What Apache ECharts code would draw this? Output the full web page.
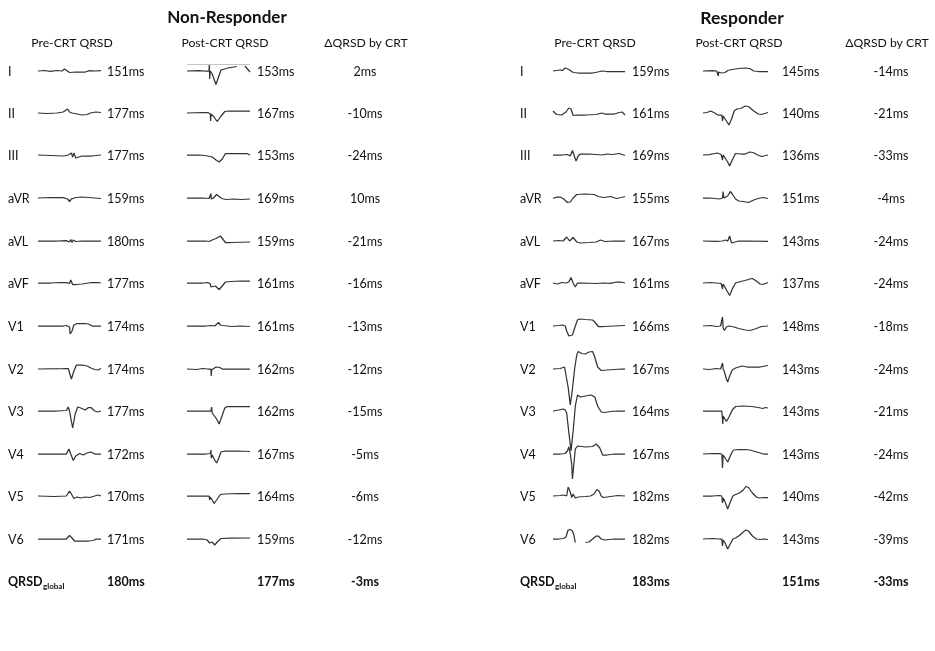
<!DOCTYPE html>
<html>
<head>
<meta charset="utf-8">
<script src="https://cdn.jsdelivr.net/npm/echarts@6/dist/echarts.min.js"></script>
<style>html,body{margin:0;padding:0;background:#fff}#c{width:935px;height:651px}</style>
</head>
<body>
<div id="c"></div>
<script>
// ---------- data ----------
const leads = ['I','II','III','aVR','aVL','aVF','V1','V2','V3','V4','V5','V6'];
const nrPreQRSD  = [151,177,177,159,180,177,174,174,177,172,170,171];
const nrPostQRSD = [153,167,153,169,159,161,161,162,162,167,164,159];
const nrDelta    = [2,-10,-24,10,-21,-16,-13,-12,-15,-5,-6,-12];
const rPreQRSD   = [159,161,169,155,167,161,166,167,164,167,182,182];
const rPostQRSD  = [145,140,136,151,143,137,148,143,143,143,140,143];
const rDelta     = [-14,-21,-33,-4,-24,-24,-18,-24,-21,-24,-42,-39];
const nrGlobal   = [180,177,-3];
const rGlobal    = [183,151,-33];

// waveforms: [time % of trace, deflection]
const nrPreWaves = [
 [[0,0],[10,0.5],[20,-0.3],[30,0.5],[38,0],[42,2],[45,0],[50,-1.5],[60,-1],[75,-1],[82,0.3],[90,0],[100,0.3]],
 [[0,0],[15,-0.5],[30,0],[40,1],[47,4],[50,1],[54,0],[57,-2],[70,-2],[78,-1.5],[83,0],[92,1],[100,0.5]],
 [[0,0],[20,-0.5],[40,-1],[48,0],[51,-2],[53,2],[55,-2],[57,2],[60,-3],[63,-1],[70,-1],[85,-1],[100,0]],
 [[0,0],[20,0.5],[40,0.3],[47,-1],[50,-3.5],[53,-1],[60,0.5],[70,1],[80,0.5],[90,0],[100,-0.5]],
 [[0,0],[30,0],[45,0.3],[50,-1],[52,1.5],[54,-1.5],[56,1],[60,-0.5],[70,0],[100,0]],
 [[0,0],[20,0],[35,0.5],[45,0.3],[48,2],[50,-0.5],[52,3],[55,-1.5],[60,-1.5],[70,-1],[85,0.5],[95,0.5],[100,0]],
 [[0,0],[40,0],[45,0.5],[48,2],[50,-1],[51,-8],[54,-5],[57,1],[62,2.5],[75,2.5],[80,2],[86,0],[100,0]],
 [[0,0],[40,0.3],[48,0.5],[50,2],[53,-10],[57,-2],[61,4],[70,4],[78,3],[84,1],[90,-0.5],[95,-1],[100,0.5]],
 [[0,0],[30,0],[45,0.5],[48,4],[50,0],[55,-17],[59,-3],[63,4],[68,3],[75,1],[80,3.5],[84,3.5],[90,0],[95,-1],[100,0]],
 [[0,0],[30,0],[45,0],[49,5],[52,0],[56,-6.5],[60,-2],[66,0.5],[72,-1],[78,1],[84,2],[90,0],[100,0]],
 [[0,0],[25,-0.5],[45,0],[50,5],[53,2],[57,-2.5],[62,-1],[68,-2],[75,-1],[82,-1.5],[90,0],[95,1],[100,0]],
 [[0,0],[30,0],[45,0],[50,3.5],[54,1],[58,-2],[70,-2],[80,-2],[88,-1.5],[92,0],[100,0]]
];
const nrPostWaves = [
 [[0,0],[20,0.3],[28,0],[35,0],[35.5,7],[36,-8],[37,0],[40,-3],[46,-13.5],[50,-6],[54,1],[65,3],[79,4.5],[80,null],[92,5],[100,-1]],
 [[0,0],[25,0.5],[33,0.5],[37,-1],[37.5,-8],[38,-1],[40,-1],[43,-4],[48,-8.5],[53,-4],[60,1.5],[66,2],[80,2],[100,2]],
 [[0,0],[20,0],[28,-0.5],[33,-1],[40,-2],[46,-5],[51,-7],[56,-4],[61,1.5],[70,1.5],[85,1.5],[95,1.5],[100,0]],
 [[0,0],[25,0],[35,-0.5],[37,-0.5],[38,4.5],[38.5,-1],[42,0],[47,3.5],[50,3],[55,-0.5],[62,-1.5],[75,-1],[85,-1.5],[100,-1]],
 [[0,0],[30,0],[35,-0.5],[40,1],[46,2.5],[53,5],[56,3],[61,-1.5],[70,-1.5],[100,-1]],
 [[0,0],[25,0],[33,0.5],[37,-1],[38,-4],[40,-2],[45,-3],[51,-6.5],[56,-3],[61,1],[70,1.5],[85,2],[100,2]],
 [[0,0],[30,0],[38,0.5],[41,2],[44,0],[47,1],[50,3.5],[53,1],[58,0.5],[70,-0.5],[85,0],[100,-0.5]],
 [[0,0],[15,-0.5],[25,0.5],[33,0],[38,0],[38.5,-7],[39,-1],[42,-1],[46,2],[49,0],[52,1.5],[56,0],[70,0],[100,0]],
 [[0,0],[30,0],[38,0],[39,4],[40,-2],[43,-4],[47,-8],[51,-13],[55,-6],[60,3],[64,4.5],[80,4.5],[100,4.5]],
 [[0,0],[30,0],[37,0.5],[38,4],[38.5,-4],[40,-1],[43,-5],[47,-9],[50,-5],[54,2],[60,3],[80,3],[100,2.5]],
 [[0,0],[30,0],[35,0],[36,-4],[37,-1],[40,-4],[43,-7.5],[47,-4],[53,1.5],[60,2],[80,2.5],[100,2.5]],
 [[0,0],[25,0],[32,-1],[35,-1.5],[36,-4],[37,-2],[40,-3],[44,-6],[48,-3],[54,0.5],[70,0.8],[100,1]]
];
const rPreWaves = [
 [[0,0],[5,0.5],[10,1],[13,0.5],[17,3],[22,1.5],[28,-1.5],[35,-2],[45,-2],[55,-2],[62,-1],[68,0],[75,-0.5],[85,-0.5],[100,-0.5]],
 [[0,2],[5,-1.5],[12,-2],[18,1],[22,5],[25,4],[28,-2.5],[32,-2],[45,-2],[60,-1.5],[68,0],[72,-1],[85,-1],[92,0.5],[96,1],[100,-2]],
 [[0,0],[12,0],[20,0.5],[24,-1],[27,4.5],[30,-2],[32,-6],[35,-1],[38,1],[50,1],[60,0.5],[62,-1.5],[68,0],[75,1],[82,0.5],[92,1.5],[100,-0.5]],
 [[0,-0.5],[5,1],[10,1],[15,-1],[20,-4.5],[24,-4],[28,0],[33,3.5],[45,4],[57,3.5],[63,1.5],[70,0.5],[80,1.5],[88,-0.5],[95,0.5],[100,1.5]],
 [[0,0],[8,0.5],[14,0],[19,4],[23,0],[28,3.5],[33,-1],[38,-2],[50,-1.5],[60,-1],[66,1],[72,-0.5],[85,0],[100,0]],
 [[0,0],[6,-1],[12,0.5],[18,0],[22,1],[25,5.5],[28,0],[31,-4],[34,0],[40,0],[60,-0.5],[70,0],[80,-0.3],[88,1],[94,1],[100,0]],
 [[0,0],[8,0.5],[13,1],[17,0],[19,-5],[22,-10],[24,-12],[27,-9],[31,0],[34,6],[37,7],[45,6.5],[55,6],[58,4],[63,-0.5],[70,-0.5],[85,0],[100,0.5]],
 [[0,0],[10,0.5],[16,2],[18,0],[21,-18],[24,-36],[27,-20],[30,0],[33,14],[35,17.5],[40,15.5],[45,15],[50,17],[55,17.5],[58,12],[62,2],[67,-1.5],[75,-1],[85,-0.5],[95,0],[100,0]],
 [[0,0],[8,1],[14,2],[17,1],[19,-2],[21,-15],[25,-40],[28,-20],[31,5],[34,16],[38,14],[45,15],[53,16],[58,14],[62,5],[67,-1],[72,-1.5],[80,-0.5],[90,0],[100,0]],
 [[0,0],[10,0],[17,0.5],[20,3],[22,7],[24,0],[26,-10],[27,-25],[29,-10],[31,5],[34,8],[45,7],[55,7.5],[60,10],[62,12],[65,6],[69,-1],[75,-1],[85,0],[100,0]],
 [[0,0],[10,0.5],[15,1],[19,0],[21,9],[24,4],[26,-1.5],[28,2],[31,-2],[35,-1],[45,-0.5],[52,0],[57,2],[61,6.5],[64,5],[67,0],[70,-1.5],[80,-0.5],[90,0.5],[100,0]],
 [[0,0],[8,0],[15,0.5],[18,2],[21,9],[24,9.5],[27,8],[29,4],[31,-3.5],[38,null],[45,-3.5],[50,-3],[55,0],[60,3],[63,3],[67,0],[72,-1],[85,0],[100,0]]
];
const rPostWaves = [
 [[0,0],[15,0.3],[21,0],[23,-1],[23.5,-5],[24,-1],[28,-2],[31,-3],[34,-1.5],[38,0.5],[45,1.5],[55,2.5],[65,3],[72,2.5],[78,0],[85,-0.5],[100,-0.5]],
 [[0,0],[6,0.5],[12,2],[18,0],[23,-2],[29,-2],[30,-8],[31,-3],[34,-4],[37,-9],[40,-12],[44,-6],[48,2],[52,4],[58,4.5],[65,7],[70,6.5],[78,2],[85,-1],[90,-1.5],[95,-0.5],[100,0.5]],
 [[0,0],[10,0.3],[18,1.5],[22,2],[28,0.5],[30,-5],[31,0],[34,-2],[38,-7],[41,-11],[45,-5],[50,1.5],[58,1],[65,1],[72,3],[77,2.5],[84,0],[90,-1.5],[100,0]],
 [[0,0],[10,0],[18,-0.5],[25,-1],[30,0],[31,6.5],[32,0],[35,0.5],[38,2],[42,6.5],[45,4],[50,-1],[55,-3],[62,-3.5],[70,-4.5],[78,-2],[85,-0.5],[92,0.5],[100,-0.5]],
 [[0,0],[20,-0.3],[30,0],[34,1],[38,0],[41,5],[44,-2],[47,0],[55,0],[70,0],[100,-0.3]],
 [[0,0],[12,0.5],[20,0],[28,-0.5],[30,-6],[31,-1],[34,-2],[37,-8],[41,-12.5],[45,-6],[50,0],[58,1.5],[65,2.5],[72,4],[76,4.5],[82,2],[88,-1],[92,-1.5],[100,0.5]],
 [[0,0],[12,0.5],[20,-0.5],[27,0],[29,1],[30,9],[31,-2],[33,-4.5],[36,-1],[40,0],[45,-0.5],[55,-2.5],[65,-4],[72,-4.5],[80,-3],[90,-0.5],[100,0]],
 [[0,0],[10,-0.5],[20,0.5],[27,0],[29.5,0],[30,6],[31,0],[33,-3],[36,-10],[38,-13],[41,-7],[45,-1],[50,1],[60,3],[68,2],[78,2],[88,2],[95,3],[100,3.5]],
 [[0,0],[20,0],[29,0],[30,0],[30.5,-13],[31,-5],[33,-6],[36,-10.5],[40,-6],[45,1],[50,4.5],[60,5],[75,4.5],[85,3.5],[92,2.5],[96,3.5],[100,3]],
 [[0,0],[15,0.5],[25,0.3],[29,0],[30,-14],[31,-1],[34,-3],[38,-8],[41,-9],[44,1],[47,4],[55,4.5],[65,4.5],[72,4],[80,2.5],[88,1],[93,0],[96,1],[100,0]],
 [[0,0],[15,0],[25,0.5],[29,0],[30,-7],[31,-2],[34,-6],[38,-13],[42,-6],[46,0],[50,1.5],[56,3],[62,6],[66,9.5],[70,8.5],[76,3],[82,-1],[87,-2],[93,-1.5],[100,-1.5]],
 [[0,0],[15,0.5],[25,0],[29,0],[30,-7],[31,-1],[34,-4],[38,-10],[42,-5],[46,0],[50,1],[56,3.5],[62,7],[66,9],[70,8],[76,3],[82,0],[88,-0.5],[93,0],[100,-0.5]]
];

// ---------- layout ----------
const rowY = [72,114,156,199,242,284,327,370,412,455,497,540];
const globalY = 582;
const FONT = 'Lato, "Liberation Sans", Arial, sans-serif';
const traceCols = [
  {x:38, w:63, waves:nrPreWaves},
  {x:187, w:63, waves:nrPostWaves},
  {x:553, w:72, waves:rPreWaves},
  {x:703, w:65, waves:rPostWaves}
];
const H = 50;

const grid = [], xAxis = [], yAxis = [], series = [];
traceCols.forEach((col, ci) => {
  col.waves.forEach((w, ri) => {
    const idx = grid.length;
    grid.push({left: col.x, width: col.w, top: rowY[ri] - 1 - H, height: 2*H, show:false});
    xAxis.push({type:'value', gridIndex: idx, min:0, max:100, show:false});
    yAxis.push({type:'value', gridIndex: idx, min:-H, max:H, show:false});
    const s = {
      type:'line', xAxisIndex: idx, yAxisIndex: idx, data: w,
      showSymbol:false, symbol:'none', clip:false, connectNulls:false,
      lineStyle:{color:'#333', width:1.25}, silent:true, animation:false
    };
    if (ci === 1 && ri === 0) {
      s.markLine = {silent:true, symbol:'none', label:{show:false},
        lineStyle:{color:'#c4c4c4', type:'solid', width:1}, data:[{yAxis:6.5}], animation:false};
    }
    series.push(s);
  });
});

const g = [];
function txt(t, x, y, opt) {
  opt = opt || {};
  g.push({type:'text', x:x, y:y, silent:true, style:{
    text:t, fill:'#111', font:(opt.bold?'bold ':'') + (opt.size||12.5) + 'px ' + FONT,
    textAlign: opt.align||'left', textVerticalAlign:'middle'}});
}
// titles
txt('Non-Responder', 227, 18, {bold:true, size:17, align:'center'});
txt('Responder', 742, 18, {bold:true, size:17.5, align:'center'});
// headers
txt('Pre-CRT QRSD', 72, 43, {align:'center', size:12.2});
txt('Post-CRT QRSD', 225, 43, {align:'center', size:12.2});
txt('\u0394QRSD by CRT', 366, 43, {align:'center', size:12.2});
txt('Pre-CRT QRSD', 595, 43, {align:'center', size:12.2});
txt('Post-CRT QRSD', 739, 43, {align:'center', size:12.2});
txt('\u0394QRSD by CRT', 887, 43, {align:'center', size:12.2});
// rows
leads.forEach((l, i) => {
  const y = rowY[i];
  txt(l, 8, y);
  txt(nrPreQRSD[i] + 'ms', 107, y);
  txt(nrPostQRSD[i] + 'ms', 257, y);
  txt(nrDelta[i] + 'ms', 365, y, {align:'center'});
  txt(l, 520, y);
  txt(rPreQRSD[i] + 'ms', 632, y);
  txt(rPostQRSD[i] + 'ms', 782, y);
  txt(rDelta[i] + 'ms', 891, y, {align:'center'});
});
// global row
txt('QRSD', 8, globalY, {bold:true});
txt('global', 43, globalY + 4, {bold:true, size:8});
txt(nrGlobal[0] + 'ms', 107, globalY, {bold:true});
txt(nrGlobal[1] + 'ms', 257, globalY, {bold:true});
txt(nrGlobal[2] + 'ms', 365, globalY, {bold:true, align:'center'});
txt('QRSD', 520, globalY, {bold:true});
txt('global', 555, globalY + 4, {bold:true, size:8});
txt(rGlobal[0] + 'ms', 632, globalY, {bold:true});
txt(rGlobal[1] + 'ms', 782, globalY, {bold:true});
txt(rGlobal[2] + 'ms', 891, globalY, {bold:true, align:'center'});

const chart = echarts.init(document.getElementById('c'), null, {renderer:'canvas'});
chart.setOption({
  backgroundColor:'#fff',
  animation:false,
  grid, xAxis, yAxis, series,
  graphic: g
});
</script>
</body>
</html>
